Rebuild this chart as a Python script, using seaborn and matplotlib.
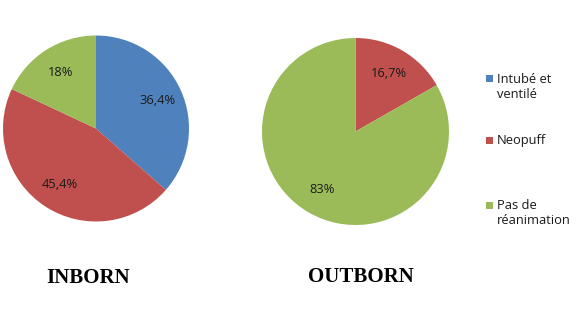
import matplotlib
matplotlib.use("Agg")
import matplotlib.pyplot as plt
from matplotlib.patches import Rectangle
import seaborn as sns

# Data
categories = ["Intubé et\nventilé", "Neopuff", "Pas de\nréanimation"]
inborn = [36.4, 45.4, 18.0]
inborn_labels = ["36,4%", "45,4%", "18%"]
outborn = [0.0, 16.7, 83.0]
outborn_labels = ["", "16,7%", "83%"]
titles = ["INBORN", "OUTBORN"]

sns.set_theme(style="white")
plt.rcParams["font.family"] = ["Open Sans", "DejaVu Sans"]
colors = ["#4F81BD", "#C0504D", "#9BBB59"]

W, H = 577, 327
fig = plt.figure(figsize=(W / 100, H / 100), dpi=100)


def pie_axes(left, top, size):
    return fig.add_axes([left / W, (H - top - size) / H, size / W, size / H])


def draw_pie(ax, values, labels):
    wedges, texts = ax.pie(values, colors=colors, startangle=90, counterclock=False,
                           labels=labels, labeldistance=0.72,
                           wedgeprops=dict(linewidth=0))
    for t in texts:
        t.set_ha("center")
        t.set_va("center")
        t.set_fontsize(9.3)
        t.set_color("#1a1a1a")
    ax.set_xlim(-1, 1)
    ax.set_ylim(-1, 1)
    ax.set_aspect("equal")
    ax.axis("off")


ax1 = pie_axes(3, 35.5, 186)
draw_pie(ax1, inborn, inborn_labels)
ax2 = pie_axes(262, 38, 187)
draw_pie(ax2, outborn, outborn_labels)

fig.text(88 / W, 1 - 278 / H, titles[0], ha="center", va="center", color="black",
         family="Liberation Serif", fontweight="bold", fontsize=15)
fig.text(361 / W, 1 - 277 / H, titles[1], ha="center", va="center", color="black",
         family="Liberation Serif", fontweight="bold", fontsize=15)

# legend, square aligned with the first line of each entry
legend_y = [79, 140, 205]
for cat, c, y in zip(categories, colors, legend_y):
    fig.patches.append(Rectangle((486 / W, 1 - (y + 3.5) / H), 7 / W, 7 / H,
                                 facecolor=c, edgecolor="none",
                                 transform=fig.transFigure, figure=fig))
    fig.text(497 / W, 1 - (y - 6) / H, cat, ha="left", va="top", fontsize=9.3,
             color="#1a1a1a", linespacing=1.2)

fig.savefig("out.png", dpi=100)
